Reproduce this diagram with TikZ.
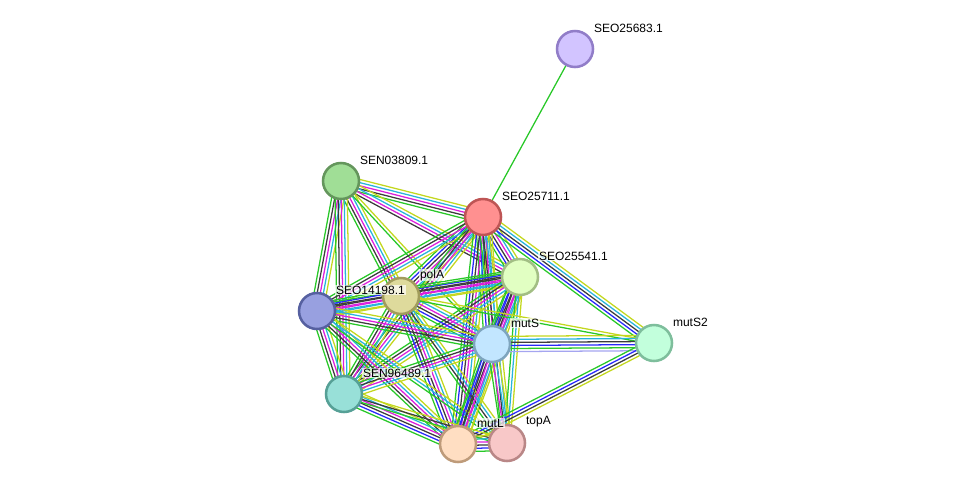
\documentclass[tikz,border=0pt]{standalone}
\usepackage{fontspec}
\setmainfont{Liberation Sans}
\usetikzlibrary{calc,backgrounds}

\definecolor{cNb}{RGB}{40,200,40}
\definecolor{cCo}{RGB}{40,40,250}
\definecolor{cCx}{RGB}{60,60,60}
\definecolor{cEx}{RGB}{220,30,220}
\definecolor{cDb}{RGB}{40,180,220}
\definecolor{cTm}{RGB}{195,215,30}
\definecolor{cHm}{RGB}{165,165,240}

\newcommand\stedge[3]{%
  \foreach \c [count=\n] in {#3} {\xdef\ncol{\n}}%
  \foreach \c [count=\i] in {#3} {%
    \pgfmathsetmacro\off{(\i-(\ncol+1)/2)*2.3}%
    \draw[myline,\c] ($(#1)!\off pt!90:(#2)$) -- ($(#2)!\off pt!-90:(#1)$);
  }}

\begin{document}
\begin{tikzpicture}[x=0.75pt,y=-0.75pt,
		myline/.style={line width=0.95pt},
		mycircle/.style={circle,line width=1.9pt,minimum size=27pt,inner sep=0pt},
		mylabel/.style={anchor=west,font=\fontsize{9pt}{10pt}\selectfont,fill=white,fill opacity=.7,text opacity=1,inner sep=.6pt}]
		\useasboundingbox (0,0) rectangle (975,490);
		\node(seo683)[mycircle,fill={rgb,255:red,210;green,196;blue,255},draw={rgb,255:red,145;green,125;blue,200}] at (575,49) {};
		\node(sen809)[mycircle,fill={rgb,255:red,160;green,222;blue,150},draw={rgb,255:red,100;green,150;blue,92}] at (341,181) {};
		\node(seo711)[mycircle,fill={rgb,255:red,255;green,144;blue,144},draw={rgb,255:red,190;green,85;blue,85}] at (483,217) {};
		\node(seo541)[mycircle,fill={rgb,255:red,225;green,255;blue,194},draw={rgb,255:red,162;green,190;blue,132}] at (520,277) {};
		\node(polA)[mycircle,fill={rgb,255:red,222;green,218;blue,156},draw={rgb,255:red,162;green,156;blue,92}] at (401,296) {};
		\node(seo198)[mycircle,fill={rgb,255:red,152;green,160;blue,224},draw={rgb,255:red,86;green,96;blue,160}] at (317,311) {};
		\node(mutS)[mycircle,fill={rgb,255:red,194;green,230;blue,255},draw={rgb,255:red,126;green,165;blue,190}] at (492,344) {};
		\node(mutSb)[mycircle,fill={rgb,255:red,194;green,255;blue,220},draw={rgb,255:red,126;green,190;blue,156}] at (654,343) {};
		\node(sen489)[mycircle,fill={rgb,255:red,152;green,224;blue,216},draw={rgb,255:red,86;green,160;blue,150}] at (344,394) {};
		\node(mutL)[mycircle,fill={rgb,255:red,255;green,222;blue,194},draw={rgb,255:red,190;green,155;blue,122}] at (458,444) {};
		\node(topA)[mycircle,fill={rgb,255:red,248;green,200;blue,200},draw={rgb,255:red,185;green,135;blue,135}] at (507,443) {};
		\node(lseo683)[mylabel] at ([xshift=13.5pt,yshift=15.75pt]seo683.center) {SEO25683.1};
		\node(lsen809)[mylabel] at ([xshift=13.5pt,yshift=15.75pt]sen809.center) {SEN03809.1};
		\node(lseo711)[mylabel] at ([xshift=13.5pt,yshift=15.75pt]seo711.center) {SEO25711.1};
		\node(lseo541)[mylabel] at ([xshift=13.5pt,yshift=15.75pt]seo541.center) {SEO25541.1};
		\node(lpolA)[mylabel] at ([xshift=13.5pt,yshift=15.75pt]polA.center) {polA};
		\node(lseo198)[mylabel] at ([xshift=13.5pt,yshift=15.75pt]seo198.center) {SEO14198.1};
		\node(lmutS)[mylabel] at ([xshift=13.5pt,yshift=15.75pt]mutS.center) {mutS};
		\node(lmutSb)[mylabel] at ([xshift=13.5pt,yshift=15.75pt]mutSb.center) {mutS2};
		\node(lsen489)[mylabel] at ([xshift=13.5pt,yshift=15.75pt]sen489.center) {SEN96489.1};
		\node(lmutL)[mylabel] at ([xshift=13.5pt,yshift=15.75pt]mutL.center) {mutL};
		\node(ltopA)[mylabel] at ([xshift=13.5pt,yshift=15.75pt]topA.center) {topA};
		\begin{pgfonlayer}{background}
		\stedge{seo683}{seo711}{cNb}
		\stedge{sen809}{seo711}{cNb,cCx,cEx,cDb,cTm}
		\stedge{sen809}{seo541}{cCx,cEx,cDb,cTm}
		\stedge{sen809}{polA}{cNb,cCx,cEx,cDb,cTm}
		\stedge{sen809}{seo198}{cNb,cCx,cEx,cDb,cTm}
		\stedge{sen809}{sen489}{cNb,cCx,cEx,cDb,cTm}
		\stedge{sen809}{mutS}{cNb,cTm}
		\stedge{seo711}{seo541}{cNb,cCo,cCx,cEx,cDb,cTm}
		\stedge{seo711}{polA}{cNb,cCo,cCx,cEx,cDb,cTm}
		\stedge{seo711}{seo198}{cNb,cCx,cEx,cDb,cTm}
		\stedge{seo711}{mutS}{cNb,cCo,cCx,cEx,cDb,cTm}
		\stedge{seo711}{mutSb}{cNb,cCo,cCx,cDb,cTm}
		\stedge{seo711}{sen489}{cNb,cCx,cEx,cDb,cTm}
		\stedge{seo711}{mutL}{cNb,cCo,cCx,cEx,cDb,cTm}
		\stedge{seo711}{topA}{cNb,cCx,cDb,cTm}
		\stedge{seo541}{polA}{cNb,cCo,cCx,cEx,cDb,cTm}
		\stedge{seo541}{seo198}{cNb,cCx,cEx,cDb,cTm}
		\stedge{seo541}{mutS}{cNb,cCo,cCx,cEx,cDb,cTm}
		\stedge{seo541}{sen489}{cNb,cCx,cEx,cDb,cTm}
		\stedge{seo541}{mutL}{cNb,cCo,cCx,cEx,cDb,cTm}
		\stedge{seo541}{topA}{cNb,cDb,cTm}
		\stedge{polA}{seo198}{cNb,cCo,cCx,cEx,cDb,cTm}
		\stedge{polA}{mutS}{cNb,cCo,cCx,cEx,cDb,cTm}
		\stedge{polA}{mutSb}{cNb,cTm}
		\stedge{polA}{sen489}{cNb,cCx,cEx,cDb,cTm}
		\stedge{polA}{mutL}{cNb,cCo,cCx,cEx,cDb,cTm}
		\stedge{polA}{topA}{cNb,cCx,cDb,cTm}
		\stedge{seo198}{mutS}{cNb,cCx,cEx,cDb,cTm}
		\stedge{seo198}{sen489}{cNb,cCx,cEx,cDb,cTm}
		\stedge{seo198}{mutL}{cNb,cCx,cEx,cDb,cTm}
		\stedge{seo198}{topA}{cNb,cDb,cTm}
		\stedge{mutS}{mutSb}{cHm,cNb,cCo,cCx,cDb,cTm}
		\stedge{mutS}{sen489}{cNb,cCx,cEx,cDb,cTm}
		\stedge{mutS}{mutL}{cNb,cCo,cCx,cEx,cDb,cTm}
		\stedge{mutS}{topA}{cNb,cEx,cDb,cTm}
		\stedge{mutSb}{mutL}{cNb,cCo,cCx,cTm}
		\stedge{sen489}{mutL}{cNb,cCo,cCx,cEx,cDb,cTm}
		\stedge{sen489}{topA}{cNb,cCx,cTm}
		\stedge{mutL}{topA}{cNb,cCo,cCx,cEx,cDb,cTm}
		\end{pgfonlayer}
	\end{tikzpicture}
\end{document}
